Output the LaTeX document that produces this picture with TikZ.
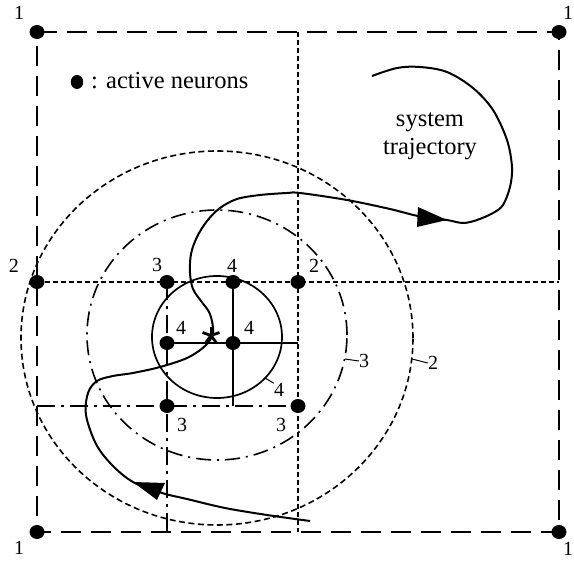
\documentclass[tikz,border=0pt]{standalone}
\usepackage{fontspec}
\setmainfont{Liberation Serif}
\usetikzlibrary{shapes.geometric}
\begin{document}
\begin{tikzpicture}[x=1pt,y=-1pt,
  neuron/.style={ellipse,fill=black,inner sep=0pt,minimum width=15pt,minimum height=14pt},
  legdot/.style={ellipse,fill=black,inner sep=0pt,minimum width=12.5pt,minimum height=14pt},
  digit/.style={inner sep=0pt,font=\fontsize{20}{23}\selectfont},
  lbl/.style={inner sep=0pt,font=\fontsize{24.5}{28}\selectfont},
  lvlone/.style={line width=2pt,dash pattern=on 20pt off 10pt},
  lvltwo/.style={line width=1.4pt,dash pattern=on 5pt off 3pt},
  lvlthree/.style={line width=1.6pt,dash pattern=on 18pt off 6pt on 3pt off 6pt},
  lvlfour/.style={line width=1.8pt},
  ringtwo/.style={line width=1.6pt,dash pattern=on 6pt off 3.5pt},
  ringthree/.style={line width=1.6pt,dash pattern=on 15pt off 6pt on 2pt off 6pt},
  ringfour/.style={line width=1.7pt},
  traj/.style={line width=2pt},
  leader/.style={line width=1pt},
  arrowhead/.style={fill=black},
  starstroke/.style={line width=2.8pt}
]
\useasboundingbox (0,0) rectangle (574,561);

% grid coordinates
\coordinate (c1tl) at (37,32);
\coordinate (c1tr) at (559,32);
\coordinate (c1bl) at (37,532);
\coordinate (c1br) at (559,532);
\coordinate (e2r) at (559,282);
\coordinate (e2t) at (298,32);
\coordinate (e2b) at (298,532);
\coordinate (n2lc) at (37,282);
\coordinate (e3l) at (37,406);
\coordinate (e3b) at (167,532);
\coordinate (n3ac) at (167,282);
\coordinate (n3cc) at (298,406);
\coordinate (n4lc) at (167,343);
\coordinate (n4tc) at (233,282);
\coordinate (e4r) at (298,343);
\coordinate (e4b) at (233,406);

% level 1: outer square
\draw[lvlone] (c1tl) -- (c1tr) -- (c1br) -- (c1bl) -- cycle;
% level 2
\draw[lvltwo] (n2lc) -- (e2r);
\draw[lvltwo] (e2t) -- (e2b);
% level 3
\draw[lvlthree] (e3l) -- (n3cc);
\draw[lvlthree] (n3ac) -- (e3b);
% level 4
\draw[lvlfour] (n4lc) -- (e4r);
\draw[lvlfour] (n4tc) -- (e4b);

% neighbourhood rings
\draw[ringtwo] (217,338) ellipse [x radius=196pt, y radius=187pt];
\draw[ringthree] (217,335) ellipse [x radius=130pt, y radius=125pt];
\draw[ringfour] (217,337) ellipse [x radius=65pt, y radius=61pt];

% ring labels
\coordinate (r4) at (265,378);
\coordinate (r3) at (345,359);
\coordinate (r2) at (412,359);
\node[digit] (l4) at (279,390) {4};
\node[digit] (l3) at (364,361) {3};
\node[digit] (l2) at (433,363) {2};
\draw[leader] (r4) -- (l4.north west);
\draw[leader] (r3) -- (l3.west);
\draw[leader] (r2) -- (l2.west);

% system trajectory
\draw[traj] plot[smooth,tension=0.55] coordinates {
 (310,521) (267,515) (225,508) (187,499) (162,493) (133,482)
 (112,465) (96,444) (86,415) (88,393) (97,381) (113,376) (133,373)
 (160,367) (187,358) (205,346) (213,333) (210,314) (201,301)
 (193,289) (190,273) (191,254) (197,237) (207,221)
 (220,208) (237,199) (260,195) (287,193) (300,193) (347,200) (390,209)
 (418,216) (447,220) (463,223) (477,220) (493,213) (503,205)
 (510,187) (512,167) (507,140) (493,110) (473,88) (447,72)
 (420,67) (397,68) (372,76)};
\fill[arrowhead] (418,207) -- (447,220) -- (417,227) -- cycle;
\fill[arrowhead] (133,482) -- (165,483) -- (157,500) -- cycle;

% target asterisk
\coordinate (star) at (211,335.5);
\draw[starstroke] (star) -- (211,327);
\draw[starstroke] (star) -- (202.5,332.5);
\draw[starstroke] (star) -- (219.5,332.5);
\draw[starstroke] (star) -- (205.5,343);
\draw[starstroke] (star) -- (216.5,343);

% neurons
\node[neuron] (n1tl) at (c1tl) {};
\node[neuron] (n1tr) at (c1tr) {};
\node[neuron] (n1bl) at (c1bl) {};
\node[neuron] (n1br) at (c1br) {};
\node[neuron] (n2l) at (n2lc) {};
\node[neuron] (n2c) at (298,282) {};
\node[neuron] (n3a) at (n3ac) {};
\node[neuron] (n3b) at (167,406) {};
\node[neuron] (n3c) at (n3cc) {};
\node[neuron] (n4t) at (n4tc) {};
\node[neuron] (n4l) at (n4lc) {};
\node[neuron] (n4c) at (233,343) {};

% neuron labels
\node[digit] (t1tl) at (19,13) {1};
\node[digit] (t1tr) at (568,13) {1};
\node[digit] (t1bl) at (19,548) {1};
\node[digit] (t1br) at (568,549) {1};
\node[digit] (t2l) at (14,266) {2};
\node[digit] (t2c) at (314,266) {2};
\node[digit] (t3a) at (157,265) {3};
\node[digit] (t4t) at (232,266) {4};
\node[digit] (t4l) at (181,328) {4};
\node[digit] (t4c) at (249,328) {4};
\node[digit] (t3b) at (182,425) {3};
\node[digit] (t3c) at (281,425) {3};

% legend
\node[legdot] (leg) at (77,82) {};
\node[lbl,anchor=base west] (legtext) at (91,89) {: active neurons};

% trajectory caption
\node[lbl,anchor=base] (cap1) at (430,127) {system};
\node[lbl,anchor=base] (cap2) at (430,155) {trajectory};
\end{tikzpicture}
\end{document}
